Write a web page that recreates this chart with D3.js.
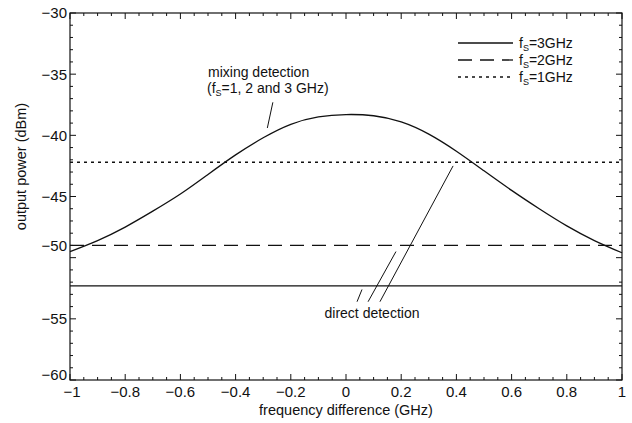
<!DOCTYPE html>
<html>
<head>
<meta charset="utf-8">
<script src="https://cdn.jsdelivr.net/npm/d3@7"></script>
<style>
  body { margin: 0; background: #fff; }
  svg text { font-family: "Liberation Sans", Arial, Helvetica, sans-serif; fill: #111; }
</style>
</head>
<body>
<svg id="chart" width="632" height="423"></svg>
<script>
// Mixing-detection response vs. frequency difference (dBm)
const freqGHz    = [-1.0, -0.9, -0.8, -0.7, -0.6, -0.5, -0.4, -0.3, -0.2, -0.1, 0.0, 0.1, 0.2, 0.3, 0.4, 0.5, 0.6, 0.7, 0.8, 0.9, 1.0];
const mixingDbm  = [-49.5, -48.6, -47.5, -46.2, -44.8, -43.2, -41.6, -40.2, -39.1, -38.5, -38.3, -38.4, -38.9, -39.9, -41.3, -42.9, -44.5, -46.0, -47.4, -48.6, -49.6];

// Direct-detection levels, one per source frequency
const sourceGHz  = [3, 2, 1];
const directDbm  = [-52.3, -49.0, -42.2];

// Axis ticks
const xTicks = [-1, -0.8, -0.6, -0.4, -0.2, 0, 0.2, 0.4, 0.6, 0.8, 1];
const yTicks = [-30, -35, -40, -45, -50, -55, -60];

// Leader lines for the "direct detection" note (GHz, dBm)
const directLeaders = [
  [[0.040, -53.6], [0.058, -52.6]],
  [[0.080, -53.6], [0.181, -49.5]],
  [[0.123, -53.6], [0.388, -42.5]]
];
const mixingLeader = [[-0.265, -37.3], [-0.285, -39.4]];

const svg = d3.select("#chart");
const m = { left: 70, right: 10, top: 13, bottom: 43 };
const W = 632, H = 423;
const x = d3.scaleLinear().domain([-1, 1]).range([m.left, W - m.right]);
const y = d3.scaleLinear().domain([-60, -30]).range([H - m.bottom, m.top]);

const fmt = v => (v < 0 ? "\u2212" : "") + String(Math.abs(v));

// Frame
svg.append("rect")
  .attr("x", x(-1)).attr("y", y(-30))
  .attr("width", x(1) - x(-1)).attr("height", y(-60) - y(-30))
  .attr("fill", "none").attr("stroke", "#111").attr("stroke-width", 1.2);

// Inward ticks on all four sides
const xMinor = d3.range(-1, 1.0001, 0.05).map(v => +v.toFixed(2));
const yMinor = d3.range(-60, -29, 1);
const tickG = svg.append("g").attr("stroke", "#111").attr("stroke-width", 1);
xMinor.forEach(v => {
  const major = xTicks.some(t => Math.abs(t - v) < 1e-6);
  const len = major ? 6 : 3;
  tickG.append("line").attr("x1", x(v)).attr("x2", x(v)).attr("y1", y(-60)).attr("y2", y(-60) - len);
  tickG.append("line").attr("x1", x(v)).attr("x2", x(v)).attr("y1", y(-30)).attr("y2", y(-30) + len);
});
yMinor.forEach(v => {
  const major = yTicks.includes(v);
  const len = major ? 6 : 3;
  tickG.append("line").attr("y1", y(v)).attr("y2", y(v)).attr("x1", x(-1)).attr("x2", x(-1) + len);
  tickG.append("line").attr("y1", y(v)).attr("y2", y(v)).attr("x1", x(1)).attr("x2", x(1) - len);
});

// Tick labels
svg.append("g").selectAll("text").data(xTicks).join("text")
  .attr("x", d => x(d) + (d === -1 ? 2 : 0)).attr("y", y(-60) + 17)
  .attr("text-anchor", "middle").attr("font-size", 15)
  .text(fmt);
// the -50 and -60 labels sit a little above their ticks
const yLabelShift = { "-50": -12, "-60": -5 };
svg.append("g").selectAll("text").data(yTicks).join("text")
  .attr("x", x(-1) - 3).attr("y", d => y(d) + (yLabelShift[d] || 0))
  .attr("dy", "0.36em")
  .attr("text-anchor", "end").attr("font-size", 15)
  .text(fmt);

// Axis titles
svg.append("text")
  .attr("x", (x(-1) + x(1)) / 2).attr("y", 415)
  .attr("text-anchor", "middle").attr("font-size", 14.5)
  .text("frequency difference (GHz)");
svg.append("text")
  .attr("transform", `translate(26,${(y(-30) + y(-60)) / 2 - 30}) rotate(-90)`)
  .attr("text-anchor", "middle").attr("font-size", 14.5)
  .text("output power (dBm)");

// Line styles per source frequency
const dashes = { 3: null, 2: "14,8", 1: "3,4" };

const plot = svg.append("g");
sourceGHz.forEach((fs, i) => {
  plot.append("line")
    .attr("x1", x(-1)).attr("x2", x(1))
    .attr("y1", y(directDbm[i])).attr("y2", y(directDbm[i]))
    .attr("stroke", "#111").attr("stroke-width", 1.3)
    .attr("stroke-dasharray", dashes[fs]);
});

// Mixing-detection curve
const curve = d3.line()
  .x((d, i) => x(freqGHz[i]))
  .y(d => y(d))
  .curve(d3.curveNatural);
plot.append("path")
  .attr("d", curve(mixingDbm))
  .attr("fill", "none").attr("stroke", "#111").attr("stroke-width", 1.3);

// Annotation leaders
const seg = d3.line().x(d => x(d[0])).y(d => y(d[1]));
directLeaders.forEach(l => {
  plot.append("path").attr("d", seg(l)).attr("stroke", "#111").attr("stroke-width", 1).attr("fill", "none");
});
plot.append("path").attr("d", seg(mixingLeader)).attr("stroke", "#111").attr("stroke-width", 1).attr("fill", "none");

// Annotation texts
svg.append("text")
  .attr("x", 372).attr("y", 318)
  .attr("text-anchor", "middle").attr("font-size", 14)
  .text("direct detection");

svg.append("text")
  .attr("x", 208).attr("y", 77)
  .attr("font-size", 14)
  .text("mixing detection");
const t2 = svg.append("text").attr("x", 207).attr("y", 93).attr("font-size", 14);
t2.append("tspan").text("(f");
t2.append("tspan").attr("font-size", 9).attr("dy", 3).text("S");
t2.append("tspan").attr("dy", -3).text("=1, 2 and 3 GHz)");

// Legend
const leg = svg.append("g");
sourceGHz.forEach((fs, i) => {
  const ly = 43 + i * 17;
  leg.append("line")
    .attr("x1", 458).attr("x2", 513).attr("y1", ly).attr("y2", ly)
    .attr("stroke", "#111").attr("stroke-width", 1.3)
    .attr("stroke-dasharray", dashes[fs]);
  const t = leg.append("text").attr("x", 519).attr("y", ly + 5).attr("font-size", 14);
  t.append("tspan").text("f");
  t.append("tspan").attr("font-size", 9).attr("dy", 3).text("S");
  t.append("tspan").attr("dy", -3).text(`=${fs}GHz`);
});
</script>
</body>
</html>
